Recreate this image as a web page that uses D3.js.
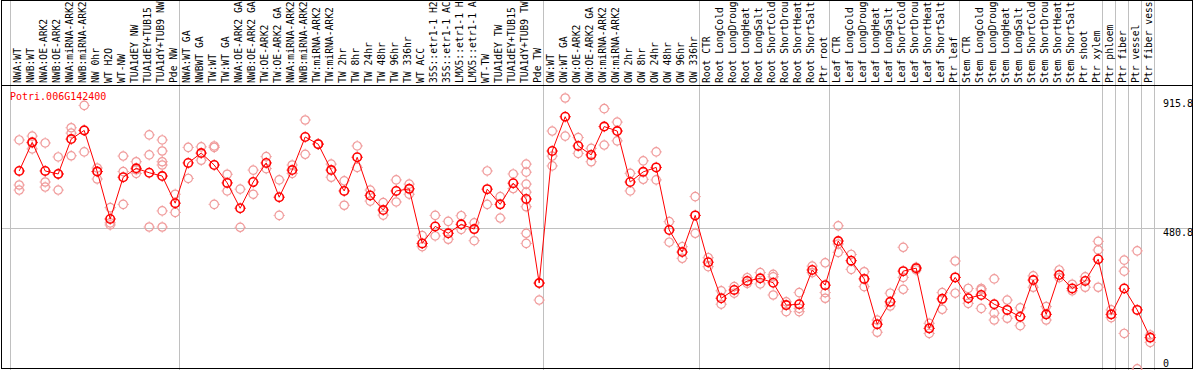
<!DOCTYPE html>
<html>
<head>
<meta charset="utf-8">
<script src="https://cdn.jsdelivr.net/npm/d3@7"></script>
<style>
  body { margin: 0; background: #fff; }
  svg { display: block; }
  text { font-family: "DejaVu Sans Mono", monospace; }
</style>
</head>
<body>
<svg width="1194" height="370"></svg>
<script>
// gene shown
const geneId = "Potri.006G142400";

// sample names, one column each
const labels = [
  "NWA:WT", "NWB:WT", "NWA:OE-ARK2", "NWB:OE-ARK2", "NWA:miRNA-ARK2", "NWB:miRNA-ARK2",
  "NW 0hr", "WT H2O", "WT-NW", "TUA1dEY NW", "TUA1dEY+TUB15 NW", "TUA1dY+TUB9 NW", "Pde NW",
  "NWA:WT GA", "NWBWT GA", "TW:WT", "TW:WT GA", "NWA:OE-ARK2 GA", "NWB:OE-ARK2 GA",
  "TW:OE-ARK2", "TW:OE-ARK2 GA", "NWA:miRNA-ARK2 GA", "NWB:miRNA-ARK2 GA", "TW:miRNA-ARK2",
  "TW:miRNA-ARK2 GA", "TW 2hr", "TW 8hr", "TW 24hr", "TW 48hr", "TW 96hr", "TW 336hr",
  "WT ACC", "35S::etr1-1 H2O", "35S::etr1-1 ACC", "LMX5::etr1-1 H2O", "LMX5::etr1-1 ACC",
  "WT-TW", "TUA1dEY TW", "TUA1dEY+TUB15 TW", "TUA1dY+TUB9 TW", "Pde TW",
  "OW:WT", "OW:WT GA", "OW:OE-ARK2", "OW:OE-ARK2 GA", "OW:miRNA-ARK2", "OW:miRNA-ARK2 GA",
  "OW 2hr", "OW 8hr", "OW 24hr", "OW 48hr", "OW 96hr", "OW 336hr",
  "Root CTR", "Root LongCold", "Root LongDrought", "Root LongHeat", "Root LongSalt",
  "Root ShortCold", "Root ShortDrought", "Root ShortHeat", "Root ShortSalt", "Ptr root",
  "Leaf CTR", "Leaf LongCold", "Leaf LongDrought", "Leaf LongHeat", "Leaf LongSalt",
  "Leaf ShortCold", "Leaf ShortDrought", "Leaf ShortHeat", "Leaf ShortSalt", "Ptr leaf",
  "Stem CTR", "Stem LongCold", "Stem LongDrought", "Stem LongHeat", "Stem LongSalt",
  "Stem ShortCold", "Stem ShortDrought", "Stem ShortHeat", "Stem ShortSalt", "Ptr shoot",
  "Ptr xylem", "Ptr phloem", "Ptr fiber", "Ptr vessel", "Ptr fiber vessel"
];

// column index where each group ends (separator lines)
const groupEnds = [0, 13, 41, 53, 63, 73, 84, 85, 86, 87, 88];

// mean expression per sample
const means = [
  671, 767, 671, 661, 778, 807, 669, 510, 650, 680, 665, 654, 563,
  698, 731, 691, 631, 546, 634, 698, 583, 674, 785, 761, 674, 604, 717, 589, 540, 604, 611,
  428, 485, 462, 492, 476, 610, 559, 630, 577, 295,
  738, 853, 755, 725, 820, 805, 634, 668, 683, 473, 399, 522,
  365, 244, 272, 302, 311, 296, 221, 224, 339, 288,
  436, 370, 309, 157, 232, 335, 345, 143, 242, 314,
  244, 255, 224, 205, 182, 305, 190, 322, 277, 302, 375,
  190, 277, 205, 112
];

// replicate values per sample
const replicates = [
  [775, 624, 607], [788, 765, 745], [765, 634, 617], [718, 607, 661], [816, 798, 722],
  [891, 808, 735], [681, 644, 669], [548, 497, 490], [721, 669, 559], [702, 663, 675],
  [792, 725, 483], [775, 738, 702, 691, 537, 483], [593, 532],
  [750, 646], [752, 707], [755, 750, 559], [660, 604], [610, 482], [674, 593], [719, 679],
  [641, 522], [691, 663], [842, 727], [761, 762], [694, 650], [638, 556], [755, 683],
  [607, 570], [565, 523], [641, 567], [627, 593], [454, 417], [522, 453], [502, 442],
  [521, 475], [497, 437], [671, 559], [585, 513], [661, 612],
  [694, 667, 627, 600, 551, 462, 428], [238, 295],
  [805, 721, 688], [915.8, 788], [783, 730], [747, 702], [880, 758], [835, 772],
  [663, 604], [705, 643], [735, 641], [501, 432], [417, 378], [585, 462],
  [380, 350], [269, 224], [283, 261], [313, 294], [330, 292], [324, 316, 255],
  [232, 199], [263, 210, 199], [352, 330], [363, 263, 244],
  [487, 426, 398], [391, 341], [333, 283], [171, 130], [261, 218], [415, 314, 274],
  [348, 339], [160, 126], [263, 207], [369, 261],
  [277, 227], [277, 272, 210], [309, 194, 171], [238, 177], [212, 152], [319, 281],
  [216, 171], [339, 313], [291, 269], [316, 281], [435, 406, 281],
  [205, 179], [372, 335, 126], [403, 7], [121, 96]
];

const yTicks = [0, 480.8, 915.8];

const W = 1194, H = 370;
const headerY = 85;
const svg = d3.select("svg");

const x = d3.scaleBand().domain(labels).range([11, 11 + 13 * labels.length]);
const y = d3.scaleLinear().domain([0, 915.8]).range([371, 98]);
const px = (d) => x(d) + 8.2;

// grid: group separators + reference line
svg.append("g")
  .selectAll("line")
  .data(groupEnds)
  .join("line")
  .attr("x1", (k) => 11 + 13 * k - 0.5)
  .attr("x2", (k) => 11 + 13 * k - 0.5)
  .attr("y1", 0)
  .attr("y2", H)
  .attr("stroke", "#c0c0c0");

svg.append("line")
  .attr("x1", 1).attr("x2", 1192)
  .attr("y1", Math.round(y(480.8)) + 0.5).attr("y2", Math.round(y(480.8)) + 0.5)
  .attr("stroke", "#c0c0c0");

// frame and header rule
svg.append("rect")
  .attr("x", 1.5).attr("y", 0.5)
  .attr("width", 1191).attr("height", 368)
  .attr("fill", "none").attr("stroke", "#000");
svg.append("line")
  .attr("x1", 1).attr("x2", 1193)
  .attr("y1", headerY + 0.5).attr("y2", headerY + 0.5)
  .attr("stroke", "#000");

// rotated sample labels
svg.append("g")
  .selectAll("text")
  .data(labels)
  .join("text")
  .attr("transform", (d) => `translate(${x(d) + 10},83) rotate(-90)`)
  .attr("font-size", 9.7)
  .attr("fill", "#000")
  .text((d) => d);

// right value axis
const axis = svg.append("g")
  .attr("transform", "translate(1155,0)")
  .call(d3.axisRight(y).tickValues(yTicks).tickSize(0).tickPadding(8).tickFormat((d) => d));
axis.select(".domain").remove();
axis.selectAll("text")
  .attr("font-family", "DejaVu Sans Mono, monospace")
  .attr("font-size", 10)
  .attr("fill", "#000")
  .attr("dy", (d) => (d === 0 ? -5 : 8));

// gene id
svg.append("text")
  .attr("x", 10).attr("y", 100)
  .attr("font-size", 10)
  .attr("fill", "#ff0000")
  .text(geneId);

// circle marker with small ticks
function marker(sel, color, sw) {
  sel.append("circle").attr("r", 4.2).attr("fill", "none").attr("stroke", color).attr("stroke-width", sw);
  sel.append("path")
    .attr("d", "M0,-4.5V-5.6M0,4.5V5.6M-4.5,0H-5.6M4.5,0H5.6")
    .attr("stroke", color).attr("stroke-width", 1);
}

// replicates
const repPts = [];
replicates.forEach((arr, i) => arr.forEach((v) => repPts.push({ k: labels[i], v })));
svg.append("g")
  .selectAll("g")
  .data(repPts)
  .join("g")
  .attr("transform", (d) => `translate(${px(d.k)},${y(d.v)})`)
  .call(marker, "#f09a9a", 1.2);

// mean line
const meanData = labels.map((k, i) => ({ k, v: means[i] }));
svg.append("path")
  .datum(meanData)
  .attr("fill", "none")
  .attr("stroke", "#ff0000")
  .attr("stroke-width", 1)
  .attr("d", d3.line().x((d) => px(d.k)).y((d) => y(d.v)));

svg.append("g")
  .selectAll("g")
  .data(meanData)
  .join("g")
  .attr("transform", (d) => `translate(${px(d.k)},${y(d.v)})`)
  .call(marker, "#ff0000", 1.6);
</script>
</body>
</html>
